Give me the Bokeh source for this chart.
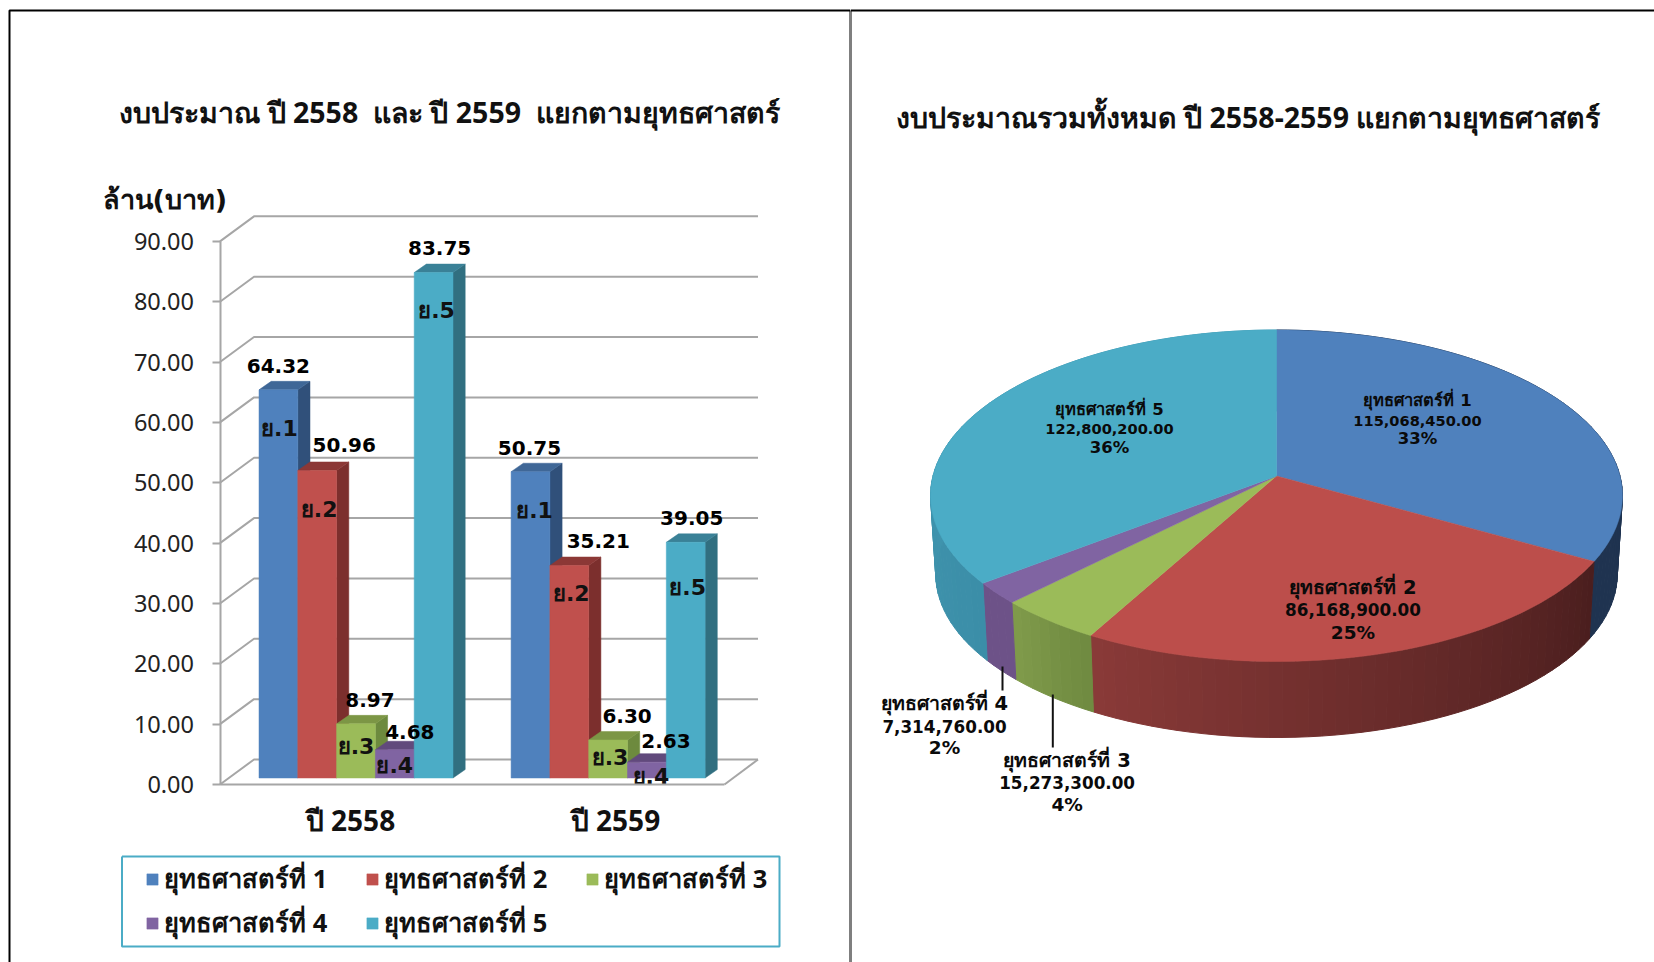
import math
from bokeh.core.properties import value
from bokeh.embed import file_html
from bokeh.layouts import row
from bokeh.models import (ColumnDataSource, FixedTicker, Label, Legend, LegendItem,
                          NumeralTickFormatter, Range1d)
from bokeh.plotting import figure
from bokeh.resources import INLINE

# ---------- data ----------
YEARS = ["ปี 2558", "ปี 2559"]
SERIES_NAMES = ["ยุทธศาสตร์ที่ 1", "ยุทธศาสตร์ที่ 2", "ยุทธศาสตร์ที่ 3", "ยุทธศาสตร์ที่ 4", "ยุทธศาสตร์ที่ 5"]
SHORT_NAMES = ["ย.1", "ย.2", "ย.3", "ย.4", "ย.5"]
S1 = [64.32, 50.75]
S2 = [50.96, 35.21]
S3 = [8.97, 6.30]
S4 = [4.68, 2.63]
S5 = [83.75, 39.05]
Y_TICKS = [0, 10, 20, 30, 40, 50, 60, 70, 80, 90]
TOTALS = [115068450.00, 86168900.00, 15273300.00, 7314760.00, 122800200.00]
PERCENTS = [33, 25, 4, 2, 36]
TITLE_L = "งบประมาณ ปี 2558\u00a0 และ ปี 2559\u00a0 แยกตามยุทธศาสตร์"
TITLE_R = "งบประมาณรวมทั้งหมด ปี 2558-2559 แยกตามยุทธศาสตร์"
UNIT = "ล้าน(บาท)"

# ---------- style ----------
FONT = value("DejaVu Sans")
FACE = ["#4f81bd", "#c0504d", "#9bbb59", "#8064a2", "#4bacc6"]
PIE_TOP = ["#4f81bd", "#bc4e4b", "#9bbb59", "#8064a2", "#4bacc6"]
TOPC = ["#3f6797", "#8c3836", "#7c9645", "#614a7c", "#3a8197"]
SIDE = ["#30507a", "#7c2f2d", "#6d8a3e", "#5b4775", "#316f80"]
SIDE_A = ["#1f3350", "#4a1e1e", "#6f8a40", "#6d5288", "#3b8ea8"]
SIDE_B = ["#1f3350", "#8a3a38", "#809b4b", "#6d5288", "#4aa0b8"]
GRID = "#a6a6a6"
INK = "#111111"
SERIES = [S1, S2, S3, S4, S5]
PAGE_H = 962
LEFT_W, RIGHT_W = 850, 804

# ---------- left chart: 3-D clustered columns ----------
PX_PER_UNIT = 6.035          # pixels per million baht
BASE_PX = 784                # page y of the value 0 at the front of the floor


def val(page_y):
    return (BASE_PX - page_y) / PX_PER_UNIT


p1 = figure(width=LEFT_W, height=PAGE_H, x_range=Range1d(0, LEFT_W), y_range=Range1d(val(PAGE_H), val(0)),
            output_backend="svg", toolbar_location=None, min_border=0, outline_line_color=None,
            background_fill_color="white", border_fill_color="white")
p1.grid.visible = False
p1.frame_align = False

yaxis = p1.yaxis[0]
yaxis.fixed_location = 219.5
yaxis.ticker = FixedTicker(ticks=Y_TICKS)
yaxis.bounds = (0, 90)
yaxis.formatter = NumeralTickFormatter(format="0.00")
yaxis.axis_line_color = GRID
yaxis.axis_line_width = 2
yaxis.major_tick_line_color = GRID
yaxis.major_tick_line_width = 2
yaxis.major_tick_out = 8
yaxis.major_tick_in = 0
yaxis.minor_tick_line_color = None
yaxis.major_label_standoff = 18
yaxis.major_label_text_font = "Noto Sans"
yaxis.major_label_text_font_size = "23.5px"
yaxis.major_label_text_color = "#222222"

GROUP_X = [258.5, 510.6]
BAR_W = 38.8
xaxis = p1.xaxis[0]
CENTERS = [350, 615]
xaxis.fixed_location = 0
xaxis.ticker = FixedTicker(ticks=CENTERS)
xaxis.major_label_overrides = dict(zip(CENTERS, YEARS))
xaxis.bounds = (219.5, 724)
xaxis.axis_line_color = GRID
xaxis.axis_line_width = 2
xaxis.major_tick_line_color = None
xaxis.minor_tick_line_color = None
xaxis.major_label_standoff = 10
xaxis.major_label_text_font = "Noto Sans"
xaxis.major_label_text_font_size = "28px"
xaxis.major_label_text_font_style = "bold"
xaxis.major_label_text_color = INK

# wall and floor lines
WALL_DX, WALL_DY = 34, 25 / PX_PER_UNIT
wx, wy = [], []
for t in Y_TICKS:
    wx.append([219.5, 219.5 + WALL_DX, 757.5])
    wy.append([t, t + WALL_DY, t + WALL_DY])
wx.append([724, 757.5])
wy.append([0, WALL_DY])
p1.multi_line(wx, wy, line_color=GRID, line_width=2)

# columns
BASE = 6.5 / PX_PER_UNIT
DEPTH_X, DEPTH_Y = 12.2, 8.5 / PX_PER_UNIT
renderers = []
for i, s in enumerate(SERIES):
    left = [g + i * BAR_W for g in GROUP_X]
    right = [l + BAR_W for l in left]
    top = [v + BASE for v in s]
    p1.patches([[r, r + DEPTH_X, r + DEPTH_X, r] for r in right],
               [[BASE, BASE + DEPTH_Y, t + DEPTH_Y, t] for t in top],
               fill_color=SIDE[i], line_color=SIDE[i], line_width=0.5)
    p1.patches([[l, r, r + DEPTH_X, l + DEPTH_X] for l, r in zip(left, right)],
               [[t, t, t + DEPTH_Y, t + DEPTH_Y] for t in top],
               fill_color=TOPC[i], line_color=TOPC[i], line_width=0.5)
    src = ColumnDataSource(dict(left=left, right=right, top=top, bottom=[BASE, BASE]))
    renderers.append(p1.quad(left="left", right="right", top="top", bottom="bottom", source=src,
                             fill_color=FACE[i], line_color=FACE[i], line_width=0.5))

# value labels and series tags, nudged per column as in the picture
VAL_DX = [[0, 27, 14, 15, 6], [-1, 29, 19, 19, 6]]
VAL_DY = [[24, 25, 24, 18, 25], [24, 25, 24, 21, 24]]
TAG_DX = [[1, 2, 0, 0, 3], [4, 2, 2, 4, 2]]
TAG_DY = [[39, 39, 23, 16, 38], [39, 28, 18, 14, 45]]
lx, ly, lt, ldx, ldy, tdx, tdy, tt = [], [], [], [], [], [], [], []
for g, gx in enumerate(GROUP_X):
    for i, s in enumerate(SERIES):
        lx.append(gx + (i + 0.5) * BAR_W)
        ly.append(s[g] + BASE)
        lt.append(f"{s[g]:.2f}")
        tt.append(SHORT_NAMES[i])
        ldx.append(VAL_DX[g][i])
        ldy.append(-VAL_DY[g][i])
        tdx.append(TAG_DX[g][i])
        tdy.append(TAG_DY[g][i])
lab = ColumnDataSource(dict(x=lx, y=ly, v=lt, t=tt, vdx=ldx, vdy=ldy, tdx=tdx, tdy=tdy))
p1.text("x", "y", text="t", x_offset="tdx", y_offset="tdy", source=lab, text_font=FONT,
        text_font_style="bold", text_font_size="22px", text_color=INK,
        text_align="center", text_baseline="middle")
p1.text("x", "y", text="v", x_offset="vdx", y_offset="vdy", source=lab, text_font=FONT,
        text_font_style="bold", text_font_size="20px", text_color="#000000",
        text_align="center", text_baseline="middle")

p1.add_layout(Label(x=449, y=val(111), text=TITLE_L, text_font="Noto Sans", text_font_style="bold",
                    text_font_size="28.5px", text_color=INK, text_align="center", text_baseline="middle"))
p1.add_layout(Label(x=102, y=val(199), text=UNIT, text_font="DejaVu Sans", text_font_style="bold",
                    text_font_size="27px", text_color=INK, text_baseline="middle"))

# rows read 1 2 3 / 4 5, and a Bokeh legend fills column by column
LEGEND_ORDER = [0, 3, 1, 4, 2]
legend = Legend(items=[LegendItem(label=SERIES_NAMES[k], renderers=[renderers[k]]) for k in LEGEND_ORDER],
                ncols=3, location=(145, PAGE_H - 943), padding=0, margin=0, spacing=4,
                glyph_width=14, glyph_height=14, label_standoff=5, label_width=197, label_height=35,
                label_text_font="Noto Sans", label_text_font_style="bold", label_text_font_size="25.5px",
                label_text_color=INK, border_line_color=None, background_fill_alpha=0)
p1.add_layout(legend)

# legend frame and the two-panel page frame
p1.line([121.5, 779, 779, 121.5, 121.5], [val(856), val(856), val(946), val(946), val(856)],
        line_color="#4bacc6", line_width=2)
p1.line([9, 9, LEFT_W], [val(PAGE_H), val(10), val(10)], line_color="#000000", line_width=2)
p1.line([LEFT_W, LEFT_W], [val(PAGE_H), val(10)], line_color="#000000", line_width=2)

# ---------- right chart: 3-D pie ----------
p2 = figure(width=RIGHT_W, height=PAGE_H, x_range=Range1d(LEFT_W, LEFT_W + RIGHT_W), y_range=Range1d(PAGE_H, 0),
            x_axis_type=None, y_axis_type=None, output_backend="svg", toolbar_location=None, min_border=0,
            outline_line_color=None, background_fill_color="white", border_fill_color="white")
p2.grid.visible = False
p2.frame_align = False
p2.line([LEFT_W, LEFT_W + RIGHT_W], [10, 10], line_color="#000000", line_width=2)
p2.line([LEFT_W, LEFT_W], [PAGE_H, 10], line_color="#000000", line_width=2)
p2.add_layout(Label(x=1247.5, y=116, text=TITLE_R, text_font="Noto Sans", text_font_style="bold",
                    text_font_size="28.5px", text_color=INK, text_align="center", text_baseline="middle"))

CX, CY, RX, RY, PERSP = 1276, 475.5, 343.5, 163.4, 0.119
WALL_SCALE, WALL_CY = 0.985, 554.3


def rim(theta):
    a = math.radians(theta)
    sx, sy = math.sin(a), -math.cos(a)
    d = 1 - PERSP * sy
    return RX * sx / d, RY * sy / d


def lerp_hex(c1, c2, t):
    a = [int(c1[k:k + 2], 16) for k in (1, 3, 5)]
    b = [int(c2[k:k + 2], 16) for k in (1, 3, 5)]
    return "#%02x%02x%02x" % tuple(round(u + (v - u) * t) for u, v in zip(a, b))


total = sum(TOTALS)
edges = [0.0]
for v in TOTALS:
    edges.append(edges[-1] + 360.0 * v / total)

sxs, sys, scol = [], [], []
txs, tys = [], []
for i in range(len(TOTALS)):
    a0, a1 = edges[i], edges[i + 1]
    n = max(2, int(a1 - a0) // 2 + 1)
    ang = [a0 + (a1 - a0) * k / n for k in range(n + 1)]
    for k in range(n):
        (x0, y0), (x1, y1) = rim(ang[k]), rim(ang[k + 1])
        sxs.append([CX + x0, CX + x1, CX + WALL_SCALE * x1, CX + WALL_SCALE * x0])
        sys.append([CY + y0, CY + y1, WALL_CY + WALL_SCALE * y1, WALL_CY + WALL_SCALE * y0])
        scol.append(lerp_hex(SIDE_A[i], SIDE_B[i], (k + 0.5) / n))
    pts = [rim(a) for a in ang]
    txs.append([CX] + [CX + x for x, _ in pts])
    tys.append([CY] + [CY + y for _, y in pts])

p2.patches(sxs, sys, fill_color=scol, line_color=scol, line_width=1)
p2.patches(txs, tys, fill_color=PIE_TOP, line_color=PIE_TOP, line_width=0.5)

# leader lines
p2.segment([1002, 1052.3], [666, 694], [1002, 1052.3], [690, 747], line_color=INK, line_width=2)

# pie labels: name, amount and share on three lines, with the name set larger
LABEL_X = [1417, 1352.5, 1066.6, 944, 1109]
LINE_Y = [[400, 420, 438], [586.6, 609, 632], [759.6, 782, 804], [702.6, 726, 747], [409, 428, 447]]
NAME_SIZE = ["16.5px", "19.5px", "19.5px", "19.5px", "16.5px"]
NUM_SIZE = ["14.6px", "16.8px", "16.8px", "16.8px", "14.6px"]
PCT_SIZE = ["16.5px", "18.5px", "18.5px", "18.5px", "16.5px"]
tx, ty, tt2, ts = [], [], [], []
for i, name in enumerate(SERIES_NAMES):
    lines = [name, f"{TOTALS[i]:,.2f}", f"{PERCENTS[i]}%"]
    sizes = [NAME_SIZE[i], NUM_SIZE[i], PCT_SIZE[i]]
    for j, line in enumerate(lines):
        tx.append(LABEL_X[i])
        ty.append(LINE_Y[i][j])
        tt2.append(line)
        ts.append(sizes[j])
p2.text(tx, ty, text=tt2, text_font=FONT, text_font_style="bold", text_font_size=ts,
        text_color="#0a0a0a", text_align="center", text_baseline="middle")

open("out.html", "w").write(file_html(row(p1, p2), INLINE))
